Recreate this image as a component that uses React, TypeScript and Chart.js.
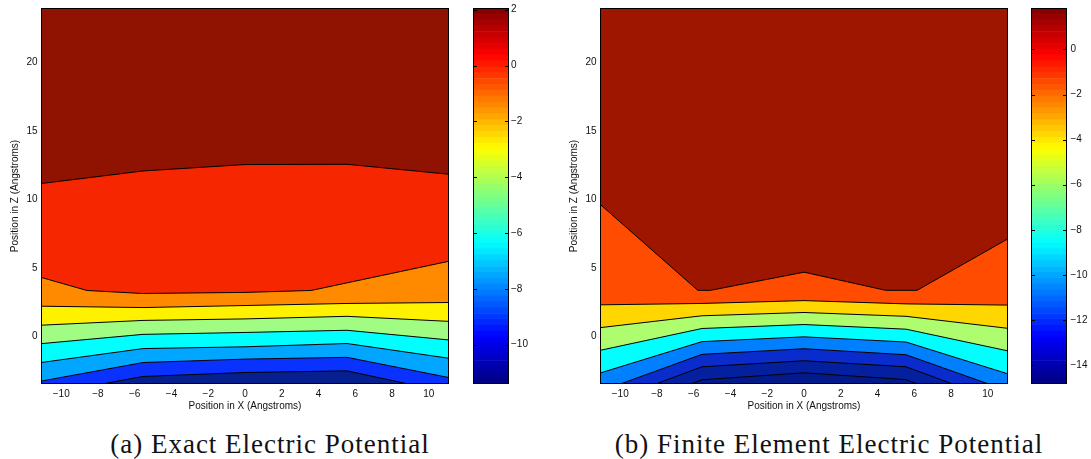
import React, { useEffect, useRef } from 'react';
import { Chart, registerables } from 'chart.js';
Chart.register(...registerables);

// ---------- axes ----------
const xRange = [-11.1, 11.1];
const zRange = [-3.5, 24];
const xTicks = [-10, -8, -6, -4, -2, 0, 2, 4, 6, 8, 10];
const zTicks = [0, 5, 10, 15, 20];

// ---------- (a) exact potential: contour boundaries [x, z] ----------
const exactTop = [[-11.1, 24], [11.1, 24]];
const exactL1 = [[-11.1, 11.16], [-5.55, 12.08], [0, 12.55], [5.55, 12.57], [11.1, 11.84]];
const exactL2 = [[-11.1, 4.3], [-8.6, 3.34], [-5.6, 3.12], [0, 3.2], [3.6, 3.34], [11.1, 5.48]];
const exactL3 = [[-11.1, 2.19], [-5.55, 2.09], [0, 2.24], [5.55, 2.39], [11.1, 2.46]];
const exactL4 = [[-11.1, 0.8], [-5.55, 1.15], [0, 1.26], [5.55, 1.45], [11.1, 1.08]];
const exactL5 = [[-11.1, -0.55], [-5.55, 0.13], [0, 0.27], [5.55, 0.43], [11.1, -0.28]];
const exactL6 = [[-11.1, -1.93], [-5.55, -0.91], [0, -0.78], [5.55, -0.54], [11.1, -1.62]];
const exactL7 = [[-11.1, -3.29], [-5.55, -1.93], [0, -1.68], [5.55, -1.55], [11.1, -3.03]];
const exactL8 = [[-7.8, -3.5], [-5.55, -2.95], [0, -2.66], [5.55, -2.54], [8.9, -3.5]];
const exactColors = ['#8f1300', '#f52600', '#ff8a00', '#fff200', '#a0fc82', '#00ffff', '#00a6ff', '#0a32ff', '#06208f'];
const exactCbRange = [-11.41, 2.06];
const exactCbTicks = [2, 0, -2, -4, -6, -8, -10];

// ---------- (b) finite element potential ----------
const feTop = [[-11.1, 24], [11.1, 24]];
const feL1 = [[-11.1, 9.65], [-5.78, 3.35], [-5.09, 3.35], [0, 4.68], [4.45, 3.35], [6.15, 3.35], [11.1, 7.12]];
const feL2 = [[-11.1, 2.29], [-5.55, 2.39], [0, 2.6], [5.55, 2.36], [11.1, 2.27]];
const feL3 = [[-11.1, 0.62], [-5.55, 1.49], [0, 1.73], [5.55, 1.45], [11.1, 0.57]];
const feL4 = [[-11.1, -1.04], [-5.55, 0.56], [0, 0.85], [5.55, 0.51], [11.1, -1.08]];
const feL5 = [[-11.1, -2.7], [-5.55, -0.4], [0, -0.05], [5.55, -0.43], [11.1, -2.76]];
const feL6 = [[-10.0, -3.5], [-5.55, -1.33], [0, -0.92], [5.55, -1.36], [10.05, -3.5]];
const feL7 = [[-8.07, -3.5], [-5.55, -2.24], [0, -1.8], [5.55, -2.24], [8.09, -3.5]];
const feL8 = [[-6.15, -3.5], [-5.55, -3.19], [0, -2.68], [5.55, -3.18], [6.14, -3.5]];
const feColors = ['#9e1600', '#ff4c00', '#ffd600', '#adfd6e', '#00ffff', '#0080ff', '#0b2ccc', '#05209f', '#021a8a'];
const feCbRange = [-14.84, 1.84];
const feCbTicks = [0, -2, -4, -6, -8, -10, -12, -14];

const JET_STEPS = 64;

// ---------- styling ----------
const SANS = "'Liberation Sans', Arial, Helvetica, sans-serif";
const TEXT = '#111';
const H = 424;
const fmt = (v: number) => (v < 0 ? '\u2212' + Math.abs(v) : String(v));
const clamp = (v: number) => Math.max(0, Math.min(1, v));
function jet(t: number) {
  const r = clamp(1.5 - Math.abs(4 * t - 3));
  const g = clamp(1.5 - Math.abs(4 * t - 2));
  const b = clamp(1.5 - Math.abs(4 * t - 1));
  return `rgb(${Math.round(r * 255)},${Math.round(g * 255)},${Math.round(b * 255)})`;
}

const framePlugin = {
  id: 'frame',
  afterDraw(chart: any) {
    const { ctx, chartArea: a } = chart;
    const l = Math.round(a.left), t = Math.round(a.top), r = Math.round(a.right), b = Math.round(a.bottom);
    ctx.save();
    ctx.strokeStyle = '#000';
    ctx.lineWidth = 1;
    ctx.strokeRect(l + 0.5, t + 0.5, r - l - 1, b - t - 1);
    ctx.restore();
  },
};

const cbTickPlugin = {
  id: 'cbTicks',
  afterDraw(chart: any) {
    const { ctx, chartArea: a } = chart;
    const ys = chart.scales.y;
    ctx.save();
    ctx.strokeStyle = '#000';
    ctx.lineWidth = 1;
    ctx.beginPath();
    for (const t of ys.ticks) {
      const py = Math.round(ys.getPixelForValue(t.value)) + 0.5;
      ctx.moveTo(a.left, py);
      ctx.lineTo(a.left + 4, py);
      ctx.moveTo(a.right - 4, py);
      ctx.lineTo(a.right, py);
    }
    ctx.stroke();
    ctx.restore();
  },
};

function zeroPad(s: any) {
  s.paddingLeft = 0;
  s.paddingRight = 0;
  s.paddingTop = 0;
  s.paddingBottom = 0;
}

type PanelProps = {
  left: number;
  width: number;
  yAxisWidth: number;
  rightPad: number;
  yTitlePad: number;
  bands: number[][][];
  colors: string[];
};

function ContourPanel(p: PanelProps) {
  const ref = useRef<HTMLCanvasElement>(null);
  useEffect(() => {
    const n = p.bands.length;
    const chart = new Chart(ref.current!, {
      type: 'line',
      data: {
        datasets: p.bands.map((pts, k) => ({
          data: pts.map(([x, y]) => ({ x, y })),
          borderColor: k === 0 ? 'rgba(0,0,0,0)' : '#000',
          borderWidth: k === 0 ? 0 : 1,
          backgroundColor: p.colors[k],
          fill: 'start',
          pointRadius: 0,
          tension: 0,
          order: n - k,
        })),
      },
      options: {
        animation: false,
        responsive: false,
        devicePixelRatio: 1,
        layout: { padding: { left: 0, top: 8, right: p.rightPad, bottom: 0 } },
        plugins: { legend: { display: false }, tooltip: { enabled: false } },
        scales: {
          x: {
            type: 'linear',
            min: xRange[0],
            max: xRange[1],
            afterBuildTicks: (s: any) => {
              s.ticks = xTicks.map((v) => ({ value: v }));
            },
            afterFit: (s: any) => {
              s.height = 40;
              zeroPad(s);
            },
            grid: { display: false, drawTicks: false },
            border: { display: false },
            ticks: {
              font: { family: SANS, size: 10 },
              color: TEXT,
              padding: 4,
              maxRotation: 0,
              autoSkip: false,
              callback: (v: any) => fmt(Number(v)),
            },
            title: {
              display: true,
              text: 'Position in X (Angstroms)',
              font: { family: SANS, size: 10 },
              color: TEXT,
              padding: { top: 0, bottom: 11.7 },
            },
          },
          y: {
            type: 'linear',
            min: zRange[0],
            max: zRange[1],
            afterBuildTicks: (s: any) => {
              s.ticks = zTicks.map((v) => ({ value: v }));
            },
            afterFit: (s: any) => {
              s.width = p.yAxisWidth;
              zeroPad(s);
            },
            grid: { display: false, drawTicks: false },
            border: { display: false },
            ticks: {
              font: { family: SANS, size: 10 },
              color: TEXT,
              padding: 3.5,
              callback: (v: any) => fmt(Number(v)),
            },
            title: {
              display: true,
              text: 'Position in Z (Angstroms)',
              font: { family: SANS, size: 10 },
              color: TEXT,
              padding: { top: p.yTitlePad, bottom: 0 },
            },
          },
        },
      },
      plugins: [framePlugin],
    } as any);
    return () => chart.destroy();
  }, []);
  return (
    <canvas
      ref={ref}
      width={p.width}
      height={H}
      style={{ position: 'absolute', left: p.left, top: 0, width: p.width, height: H }}
    />
  );
}

type CbProps = {
  left: number;
  width: number;
  padLeft: number;
  axisWidth: number;
  labelPad: number;
  range: number[];
  ticks: number[];
};

function ColorBar(p: CbProps) {
  const ref = useRef<HTMLCanvasElement>(null);
  useEffect(() => {
    const [lo, hi] = p.range;
    const step = (hi - lo) / JET_STEPS;
    const datasets = Array.from({ length: JET_STEPS }, (_, i) => ({
      data: [[lo + i * step, lo + (i + 1) * step]],
      backgroundColor: jet((i + 0.5) / JET_STEPS),
      borderWidth: 0,
      barPercentage: 1,
      categoryPercentage: 1,
      grouped: false,
    }));
    const chart = new Chart(ref.current!, {
      type: 'bar',
      data: { labels: [''], datasets },
      options: {
        animation: false,
        responsive: false,
        devicePixelRatio: 1,
        layout: { padding: { left: p.padLeft, top: 8, right: 0, bottom: H - 384 } },
        plugins: { legend: { display: false }, tooltip: { enabled: false } },
        scales: {
          x: { display: false },
          y: {
            type: 'linear',
            position: 'right',
            min: lo,
            max: hi,
            afterBuildTicks: (s: any) => {
              s.ticks = p.ticks.map((v) => ({ value: v }));
            },
            afterFit: (s: any) => {
              s.width = p.axisWidth;
              zeroPad(s);
            },
            grid: { display: false, drawTicks: false },
            border: { display: false },
            ticks: {
              font: { family: SANS, size: 10 },
              color: TEXT,
              padding: p.labelPad,
              callback: (v: any) => fmt(Number(v)),
            },
          },
        },
      },
      plugins: [framePlugin, cbTickPlugin],
    } as any);
    return () => chart.destroy();
  }, []);
  return (
    <canvas
      ref={ref}
      width={p.width}
      height={H}
      style={{ position: 'absolute', left: p.left, top: 0, width: p.width, height: H }}
    />
  );
}

const captionStyle = (center: number): React.CSSProperties => ({
  position: 'absolute',
  left: center - 300,
  width: 600,
  top: 430.5,
  textAlign: 'center',
  fontFamily: "'Liberation Serif', 'Times New Roman', serif",
  fontSize: 27,
  lineHeight: '27px',
  letterSpacing: '1px',
  color: '#111',
  whiteSpace: 'nowrap',
});

export default function App() {
  return (
    <div
      style={{
        position: 'fixed',
        left: 0,
        top: 0,
        width: 1091,
        height: 459,
        background: '#fff',
        overflow: 'hidden',
      }}
    >
      <ContourPanel
        left={0}
        width={452}
        yAxisWidth={41}
        rightPad={3}
        yTitlePad={9}
        bands={[exactTop, exactL1, exactL2, exactL3, exactL4, exactL5, exactL6, exactL7, exactL8]}
        colors={exactColors}
      />
      <ColorBar left={460} width={80} padLeft={13} axisWidth={31} labelPad={2} range={exactCbRange} ticks={exactCbTicks} />
      <ContourPanel
        left={545}
        width={466}
        yAxisWidth={55}
        rightPad={3}
        yTitlePad={23.6}
        bands={[feTop, feL1, feL2, feL3, feL4, feL5, feL6, feL7, feL8]}
        colors={feColors}
      />
      <ColorBar left={1018} width={73} padLeft={13} axisWidth={24} labelPad={3.5} range={feCbRange} ticks={feCbTicks} />
      <div style={captionStyle(270)}>(a) Exact Electric Potential</div>
      <div style={captionStyle(829)}>(b) Finite Element Electric Potential</div>
    </div>
  );
}
